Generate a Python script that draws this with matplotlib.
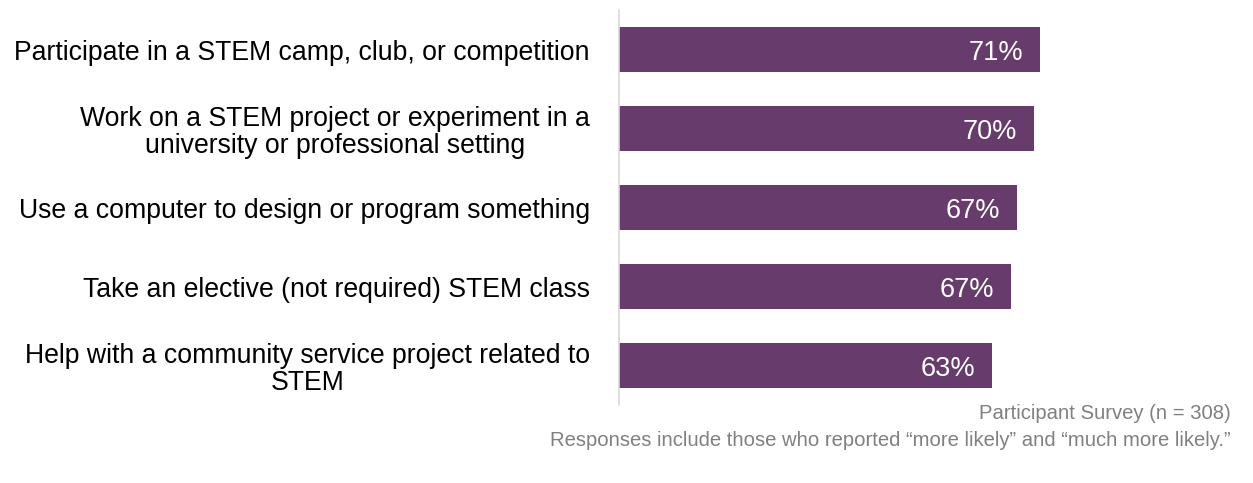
import matplotlib.pyplot as plt

plt.rcParams['font.family'] = ['Liberation Sans', 'DejaVu Sans']

# Survey items, top to bottom
items = ["Participate in a STEM camp, club, or competition",
         "Work on a STEM project or experiment in a\nuniversity or professional setting",
         "Use a computer to design or program something",
         "Take an elective (not required) STEM class",
         "Help with a community service project related to\nSTEM"]
# Percent "more likely" and the printed labels
pct = [71.0, 70.0, 67.1, 66.1, 62.9]
pct_labels = ["71%", "70%", "67%", "67%", "63%"]

purple = "#673B6B"

fig = plt.figure(figsize=(12.53, 4.83), dpi=100)
ax = fig.add_axes([0.494, 0.1615, 0.473, 0.8175])

y = list(range(len(items)))
ax.barh(y, pct, height=0.57, color=purple)
for yi, v, lab in zip(y, pct, pct_labels):
    ax.text(v - 2.8, yi, lab, ha='right', va='center_baseline', color='white', fontsize=19.5)

ax.set_xlim(0, 100)
ax.set_ylim(4.5, -0.5)
ax.set_yticks(y)
ax.set_yticklabels(items, fontsize=19.2, multialignment='center', linespacing=1.05)
ax.tick_params(axis='y', length=0, pad=21)
ax.set_xticks([])
for s in ['top', 'right', 'bottom']:
    ax.spines[s].set_visible(False)
ax.spines['left'].set_color('#D9D9D9')
ax.spines['left'].set_linewidth(1.2)

fig.text(0.982, 0.143, "Participant Survey (n = 308)", ha='right', va='center',
         fontsize=14.6, color='#808080')
fig.text(0.982, 0.087, "Responses include those who reported \u201cmore likely\u201d and \u201cmuch more likely.\u201d",
         ha='right', va='center', fontsize=14.6, color='#808080')

fig.savefig("out.png", dpi=100)
